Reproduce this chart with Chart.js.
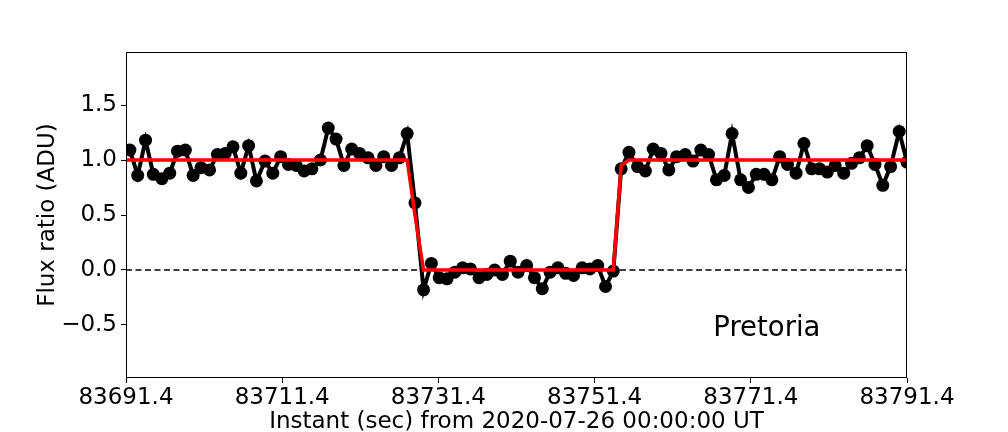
<!DOCTYPE html>
<html>
<head>
<meta charset="utf-8">
<script src="https://cdn.jsdelivr.net/npm/chart.js@4/dist/chart.umd.min.js"></script>
<style>
  html, body { margin: 0; padding: 0; background: #fff; }
  #wrap { width: 1008px; height: 432px; }
</style>
</head>
<body>
<div id="wrap"><canvas id="lc" width="1008" height="432"></canvas></div>
<script>
// Instantes de cada exposición (s desde 2020-07-26 00:00:00 UT)
const times = [
  83691.9, 83692.9, 83693.9, 83694.9, 83696.0, 83697.0, 83698.0, 83699.0, 83700.0, 83701.0,
  83702.1, 83703.1, 83704.1, 83705.1, 83706.1, 83707.1, 83708.1, 83709.2, 83710.2, 83711.2,
  83712.2, 83713.2, 83714.2, 83715.2, 83716.3, 83717.3, 83718.3, 83719.3, 83720.3, 83721.3,
  83722.4, 83723.4, 83724.4, 83725.4, 83726.4, 83727.4, 83728.4, 83729.5, 83730.5, 83731.5,
  83732.5, 83733.5, 83734.5, 83735.5, 83736.6, 83737.6, 83738.6, 83739.6, 83740.6, 83741.6,
  83742.7, 83743.7, 83744.7, 83745.7, 83746.7, 83747.7, 83748.7, 83749.8, 83750.8, 83751.8,
  83752.8, 83753.8, 83754.8, 83755.8, 83756.9, 83757.9, 83758.9, 83759.9, 83760.9, 83761.9,
  83763.0, 83764.0, 83765.0, 83766.0, 83767.0, 83768.0, 83769.0, 83770.1, 83771.1, 83772.1,
  83773.1, 83774.1, 83775.1, 83776.1, 83777.2, 83778.2, 83779.2, 83780.2, 83781.2, 83782.2,
  83783.3, 83784.3, 83785.3, 83786.3, 83787.3, 83788.3, 83789.3, 83790.4, 83791.4
];

// Razón de flujo observada
const flux = [
  1.09, 0.86, 1.18, 0.87, 0.83, 0.88, 1.08, 1.09, 0.86, 0.93,
  0.91, 1.05, 1.06, 1.12, 0.88, 1.13, 0.81, 0.99, 0.88, 1.03,
  0.96, 0.95, 0.90, 0.92, 1.00, 1.29, 1.19, 0.95, 1.10, 1.06,
  1.02, 0.95, 1.03, 0.95, 1.02, 1.24, 0.61, -0.18, 0.06, -0.07,
  -0.08, -0.02, 0.02, 0.01, -0.07, -0.04, 0.00, -0.04, 0.08, -0.02,
  0.04, -0.07, -0.17, -0.02, 0.02, -0.03, -0.05, 0.02, 0.01, 0.04,
  -0.15, -0.01, 0.92, 1.07, 0.94, 0.90, 1.10, 1.06, 0.91, 1.03,
  1.05, 0.99, 1.09, 1.05, 0.82, 0.86, 1.24, 0.82, 0.75, 0.87,
  0.87, 0.82, 1.03, 0.96, 0.88, 1.15, 0.92, 0.92, 0.89, 0.95,
  0.88, 0.97, 1.02, 1.13, 0.96, 0.77, 0.94, 1.26, 0.98
];

// Modelo de la ocultación (vértices)
const modelTimes = [83691.4, 83727.4, 83728.4, 83729.5, 83753.8, 83754.8, 83755.8, 83791.4];
const modelFlux  = [1.0, 1.0, 0.5, 0.0, 0.0, 0.95, 1.0, 1.0];

// Línea de referencia en cero
const zeroTimes = [83691.4, 83791.4];
const zeroFlux  = [0, 0];

const xTicks = [83691.4, 83711.4, 83731.4, 83751.4, 83771.4, 83791.4];
const yTicks = [-0.5, 0.0, 0.5, 1.0, 1.5];

const stationName = 'Pretoria';

const FONT = 'DejaVu Sans';
const toXY = (xs, ys) => xs.map((x, i) => ({ x: x, y: ys[i] }));

// Marco de los ejes y nombre de la estación
const framePlugin = {
    id: 'frame',
    afterDatasetsDraw(chart) {
        const { ctx, chartArea: a, scales } = chart;
        ctx.save();
        ctx.strokeStyle = '#000';
        ctx.lineWidth = 1;
        ctx.strokeRect(a.left + 0.5, a.top + 0.5, a.right - a.left - 1, a.bottom - a.top - 1);
        ctx.fillStyle = '#000';
        ctx.font = '27.5px "' + FONT + '"';
        ctx.textBaseline = 'alphabetic';
        ctx.textAlign = 'left';
        ctx.fillText(stationName, scales.x.getPixelForValue(83766.6), scales.y.getPixelForValue(-0.6));
        ctx.restore();
    }
};

Chart.defaults.font.family = FONT;
Chart.defaults.color = '#000';

new Chart(document.getElementById('lc'), {
    type: 'line',
    data: {
        datasets: [
            {
                label: 'modelo',
                data: toXY(modelTimes, modelFlux),
                borderColor: '#ff0000',
                borderWidth: 3.5,
                pointRadius: 0,
                tension: 0
            },
            {
                label: 'observado',
                data: toXY(times, flux),
                borderColor: '#000',
                backgroundColor: '#000',
                borderWidth: 4,
                pointRadius: 6.5,
                pointBorderWidth: 0,
                pointBackgroundColor: '#000',
                tension: 0
            },
            {
                label: 'cero',
                data: toXY(zeroTimes, zeroFlux),
                borderColor: '#000',
                borderWidth: 1.5,
                borderDash: [6, 3.5],
                pointRadius: 0
            }
        ]
    },
    options: {
        responsive: false,
        animation: false,
        devicePixelRatio: 1,
        layout: { padding: { top: 52, right: 101, left: 0, bottom: 0 } },
        plugins: {
            legend: { display: false },
            tooltip: { enabled: false }
        },
        scales: {
            x: {
                type: 'linear',
                min: 83691.4,
                max: 83791.4,
                afterBuildTicks: s => { s.ticks = xTicks.map(v => ({ value: v })); },
                afterFit: s => { s.height = 54; },
                ticks: {
                    font: { size: 23 },
                    padding: 1,
                    maxRotation: 0,
                    autoSkip: false,
                    callback: v => v.toFixed(1)
                },
                grid: { drawOnChartArea: false, tickLength: 5, color: '#000', lineWidth: 1 },
                border: { display: false },
                title: {
                    display: true,
                    text: 'Instant (sec) from 2020-07-26 00:00:00 UT',
                    font: { size: 23, lineHeight: 0.85 },
                    padding: 0
                }
            },
            y: {
                min: -0.982,
                max: 1.982,
                afterBuildTicks: s => { s.ticks = yTicks.map(v => ({ value: v })); },
                afterFit: s => { s.width = 126; },
                ticks: {
                    font: { size: 23 },
                    padding: 4,
                    autoSkip: false,
                    callback: v => v.toFixed(1).replace('-', '\u2212')
                },
                grid: { drawOnChartArea: false, tickLength: 5, color: '#000', lineWidth: 1 },
                border: { display: false },
                title: {
                    display: true,
                    text: 'Flux ratio (ADU)',
                    font: { size: 23, lineHeight: 1.2 },
                    padding: { top: 34, bottom: 0 }
                }
            }
        }
    },
    plugins: [framePlugin]
});
</script>
</body>
</html>
